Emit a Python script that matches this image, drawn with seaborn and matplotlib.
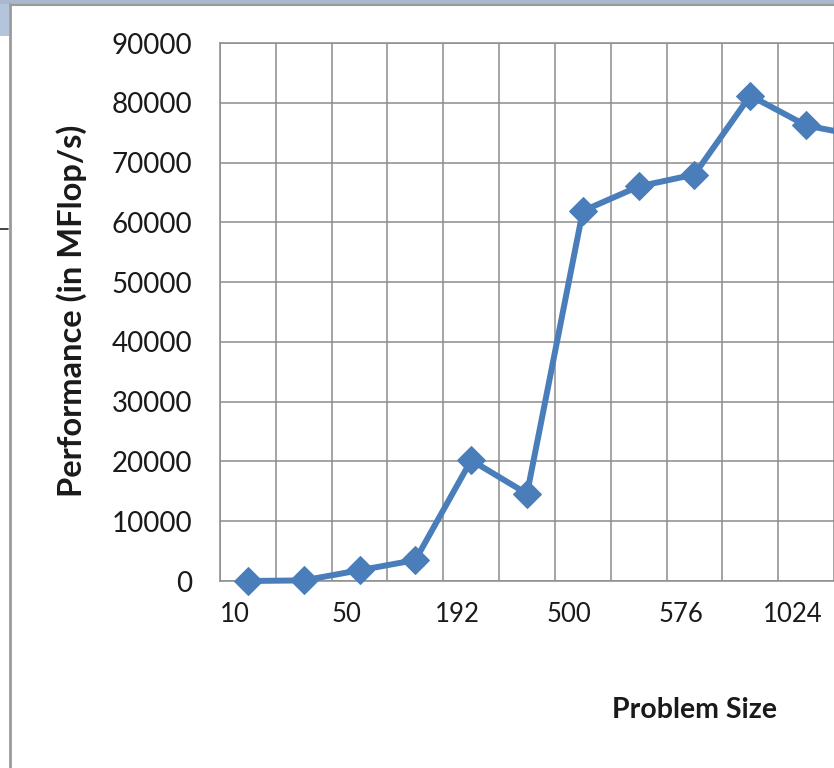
import matplotlib
matplotlib.use("Agg")
import matplotlib.pyplot as plt
import seaborn as sns
import pandas as pd
from matplotlib.patches import Rectangle
from matplotlib.lines import Line2D

# ---- data ----
category_index = [0, 1, 2, 3, 4, 5, 6, 7, 8, 9, 10, 11]
performance = [0, 100, 1800, 3500, 20200, 14600, 61900, 66000, 68000, 81200, 76200, 74400]
tick_positions = [0, 2, 4, 6, 8, 10]
tick_labels = ["10", "50", "192", "500", "576", "1024"]
y_ticks = [0, 10000, 20000, 30000, 40000, 50000, 60000, 70000, 80000, 90000]

df = pd.DataFrame({"idx": category_index, "perf": performance})

sns.set_theme(style="white")
plt.rcParams["font.family"] = ["Lato", "DejaVu Sans"]

W, H = 834, 768
fig = plt.figure(figsize=(W / 100, H / 100), dpi=100)
ax = fig.add_axes([220 / W, 1 - 581 / H, (834 - 220) / W, (581 - 43) / H])

line_color = "#4a7ebb"
sns.lineplot(data=df, x="idx", y="perf", ax=ax, color=line_color, linewidth=4.3,
             marker="D", markersize=14.5, markeredgecolor=line_color,
             markerfacecolor=line_color, clip_on=False, zorder=5)

ax.set_xlim(-0.5, 10.49)
ax.set_ylim(0, 90000)

# grid between categories
ax.set_xticks([i + 0.5 for i in range(-1, 11)], minor=True)
ax.set_xticks([p - 0.24 for p in tick_positions])
ax.set_xticklabels(tick_labels, fontsize=18.5, color="#1a1a1a")
ax.set_yticks(y_ticks)
ax.set_yticklabels([str(v) for v in y_ticks], fontsize=20, color="#1a1a1a")
ax.grid(False)
ax.grid(True, which="minor", axis="x", color="#8c8c8c", linewidth=1.1)
ax.grid(True, which="major", axis="y", color="#8c8c8c", linewidth=1.1)
ax.set_axisbelow(True)
ax.tick_params(axis="x", which="both", length=0, pad=15)
ax.tick_params(axis="y", which="major", length=4, color="#8c8c8c", pad=16, width=1.1, direction="out")

for s in ["top", "left", "bottom"]:
    ax.spines[s].set_visible(True)
    ax.spines[s].set_color("#8c8c8c")
    ax.spines[s].set_linewidth(1.1)
ax.spines["right"].set_visible(False)

ax.set_xlabel("")
ax.set_ylabel("")
fig.text(72 / W, 1 - 311 / H, "Performance (in MFlop/s)", rotation=90,
         ha="center", va="center", fontsize=23.5, fontweight="bold", color="#1a1a1a")
fig.text(695 / W, 1 - 710 / H, "Problem Size", ha="center", va="center",
         fontsize=20.5, fontweight="bold", color="#1a1a1a")

# frame artifacts of the screenshot
fig.add_artist(Rectangle((0, 1 - 36 / H), 9 / W, 36 / H, transform=fig.transFigure,
                         facecolor="#b4c4dc", edgecolor="none"))
fig.add_artist(Rectangle((0, 1 - 4 / H), 1, 4 / H, transform=fig.transFigure,
                         facecolor="#a9b8cf", edgecolor="none"))
fig.add_artist(Line2D([9.5 / W, 9.5 / W], [0, 1 - 4 / H], transform=fig.transFigure,
                      color="#9a9a9a", linewidth=2))
fig.add_artist(Line2D([9.5 / W, 1], [1 - 5 / H, 1 - 5 / H], transform=fig.transFigure,
                      color="#9a9a9a", linewidth=1.5))
fig.add_artist(Line2D([0, 8 / W], [1 - 229 / H, 1 - 229 / H], transform=fig.transFigure,
                      color="#222222", linewidth=1.2))

fig.savefig("out.png", dpi=100, facecolor="white")
